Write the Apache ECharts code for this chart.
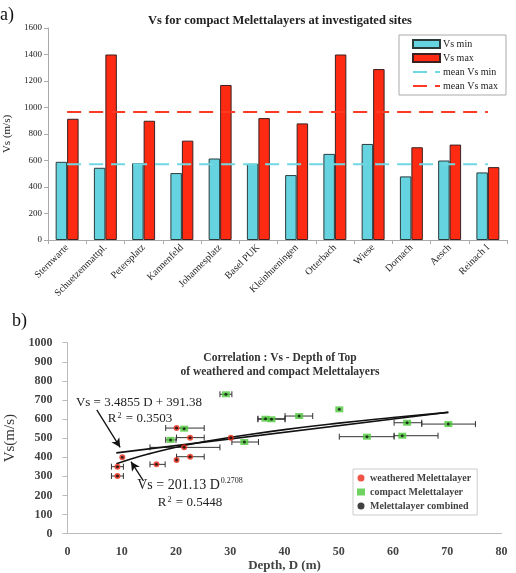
<!DOCTYPE html>
<html><head><meta charset="utf-8">
<script src="https://cdn.jsdelivr.net/npm/echarts@6/dist/echarts.min.js"></script>
<style>html,body{margin:0;padding:0;background:#fff}#c{width:516px;height:573px}</style>
</head><body><div id="c"></div>
<script>
// ---------- Panel a data ----------
const sites = ['Sternwarte','Schuetzenmattpl.','Petersplatz','Kannenfeld','Johannesplatz','Basel PUK','Kleinhueningen','Otterbach','Wiese','Dornach','Aesch','Reinach I'];
const vsMin = [590,545,580,505,615,575,490,650,725,480,600,510];
const vsMax = [915,1400,900,750,1170,920,880,1400,1290,700,720,550];
const meanVsMin = 572;
const meanVsMax = 966;
const yTicksA = [0,200,400,600,800,1000,1200,1400,1600];

// ---------- Panel b data ----------
const weatheredD = [9.2, 9.2, 10.1, 16.4, 20.1, 22.6, 21.5, 22.6, 20.1, 30.1];
const weatheredV = [351, 302, 400, 363, 386, 403, 452, 503, 553, 503];
const weatheredErrLow  = [8.1, 8.1, null, 15.2, null, 20.1, 15.2, 20.1, 18.1, null];
const weatheredErrHigh = [10.3, 10.3, null, 18.0, null, 25.2, 28.1, 25.2, 25.2, null];

const compactD = [19.0, 21.5, 32.6, 29.2, 36.5, 37.6, 42.7, 50.1, 55.2, 61.7, 62.6, 70.2];
const compactV = [491, 550, 480, 730, 602, 599, 616, 651, 508, 513, 581, 574];
const compactErrLow  = [18.1, null, 30.3, 28.1, 35.1, 35.1, 40.1, null, 50.1, 60.2, 60.2, 65.3];
const compactErrHigh = [20.0, null, 35.2, 30.3, 40.1, 40.1, 45.2, null, 60.2, 68.3, 65.3, 75.2];

const linearTrend = [[9.0, 423], [70.2, 636]];
const powerTrend = [[9,366],[12,394],[15,418],[20,453],[25,481],[30,504],[40,545],[50,579],[60,608],[70.2,635]];
const xTicksB = [0,10,20,30,40,50,60,70,80];
const yTicksB = [0,100,200,300,400,500,600,700,800,900,1000];

const SERIF = '"Liberation Serif","DejaVu Serif",serif';
const CYAN = '#66D4E0', RED = '#FF2A12';
const plain = v => String(v);

function zipPts(xs, ys){ return xs.map((x,i)=>[x, ys[i]]); }
function errRows(lo, hi, ys){
  const out = [];
  lo.forEach((l,i)=>{ if(l!==null) out.push([l, hi[i], ys[i]]); });
  return out;
}
function errRender(params, api){
  const y = api.value(2);
  const p1 = api.coord([api.value(0), y]);
  const p2 = api.coord([api.value(1), y]);
  const h = 3, st = {stroke:'#333', lineWidth:1};
  return {type:'group', children:[
    {type:'line', shape:{x1:p1[0],y1:p1[1],x2:p2[0],y2:p2[1]}, style:st},
    {type:'line', shape:{x1:p1[0],y1:p1[1]-h,x2:p1[0],y2:p1[1]+h}, style:st},
    {type:'line', shape:{x1:p2[0],y1:p2[1]-h,x2:p2[0],y2:p2[1]+h}, style:st}
  ]};
}

const chart = echarts.init(document.getElementById('c'), null, {renderer:'canvas'});
chart.setOption({
  animation:false,
  backgroundColor:'#fff',
  textStyle:{fontFamily:SERIF},
  title:[
    {text:'Vs for compact Melettalayers at investigated sites', left:275, top:9, textAlign:'center',
     textStyle:{fontFamily:SERIF, fontSize:12.5, fontWeight:'bold', color:'#222'}},
    {text:'Correlation : Vs - Depth of Top\nof weathered and compact Melettalayers', left:275, top:346, textAlign:'center',
     textStyle:{fontFamily:SERIF, fontSize:11.5, fontWeight:'bold', color:'#333', lineHeight:14}}
  ],
  legend:[
    {data:[
       {name:'Vs min', icon:'rect'},
       {name:'Vs max', icon:'rect'},
       {name:'mean Vs min', itemStyle:{opacity:0}},
       {name:'mean Vs max', itemStyle:{opacity:0}}],
     orient:'vertical', left:399, top:35,
     itemWidth:27, itemHeight:8, itemGap:4, padding:[4,8,4,13],
     borderColor:'#aaa', borderWidth:1, backgroundColor:'#fff',
     textStyle:{fontFamily:SERIF, fontSize:10, color:'#222', padding:[0,0,0,-2]}},
    {data:['weathered Melettalayer','compact Melettalayer','Melettalayer combined'], orient:'vertical', left:353, top:469,
     itemWidth:8, itemHeight:7, itemGap:4, padding:[4,6,4,4],
     borderColor:'#ccc', borderWidth:1, backgroundColor:'#fff',
     textStyle:{fontFamily:SERIF, fontSize:10, fontWeight:'bold', color:'#444'}}
  ],
  grid:[
    {left:48, right:9, top:28, bottom:333, containLabel:false, outerBoundsMode:'none'},
    {left:67.5, right:14.5, top:342.7, bottom:39.3, containLabel:false, outerBoundsMode:'none'}
  ],
  xAxis:[
    {type:'category', gridIndex:0, data:sites,
     axisLine:{lineStyle:{color:'#aaa'}}, axisTick:{show:true, length:4, lineStyle:{color:'#aaa'}},
     axisLabel:{rotate:45, fontFamily:SERIF, fontSize:10, color:'#222', margin:6, interval:0}},
    {type:'value', gridIndex:1, min:xTicksB[0], max:xTicksB[xTicksB.length-1], interval:10,
     splitLine:{show:false}, axisLine:{show:true, lineStyle:{color:'#bbb'}}, axisTick:{show:false},
     axisLabel:{fontFamily:SERIF, fontSize:12, fontWeight:'bold', color:'#444', margin:12, formatter:plain},
     name:'Depth, D (m)', nameLocation:'middle', nameGap:25,
     nameTextStyle:{fontFamily:SERIF, fontSize:13, fontWeight:'bold', color:'#444'}}
  ],
  yAxis:[
    {type:'value', gridIndex:0, min:yTicksA[0], max:yTicksA[yTicksA.length-1], interval:200,
     splitLine:{show:false}, axisLine:{show:true, lineStyle:{color:'#aaa'}},
     axisTick:{show:true, length:4, lineStyle:{color:'#aaa'}},
     axisLabel:{fontFamily:SERIF, fontSize:9, color:'#222', margin:6, formatter:plain},
     name:'Vs (m/s)', nameLocation:'middle', nameGap:24,
     nameTextStyle:{fontFamily:SERIF, fontSize:11, color:'#222'}},
    {type:'value', gridIndex:1, min:yTicksB[0], max:yTicksB[yTicksB.length-1], interval:100,
     splitLine:{show:false}, axisLine:{show:true, lineStyle:{color:'#bbb'}},
     axisTick:{show:true, length:5, lineStyle:{color:'#bbb'}},
     axisLabel:{fontFamily:SERIF, fontSize:12, fontWeight:'bold', color:'#444', margin:15, formatter:plain},
     name:'Vs(m/s)', nameLocation:'middle', nameGap:47,
     nameTextStyle:{fontFamily:SERIF, fontSize:15, color:'#333'}}
  ],
  series:[
    {name:'Vs min', type:'bar', xAxisIndex:0, yAxisIndex:0, data:vsMin, barGap:'0%', barCategoryGap:'40%',
     itemStyle:{color:CYAN, borderColor:'#2b3b3b', borderWidth:1}},
    {name:'Vs max', type:'bar', xAxisIndex:0, yAxisIndex:0, data:vsMax,
     itemStyle:{color:RED, borderColor:'#3a2020', borderWidth:1}},
    {name:'mean Vs min', type:'line', xAxisIndex:0, yAxisIndex:0, data:sites.map(()=>meanVsMin),
     symbol:'none', lineStyle:{color:'#6FD8E2', width:2, type:[14,8]}, itemStyle:{color:'#6FD8E2'}, z:5},
    {name:'mean Vs max', type:'line', xAxisIndex:0, yAxisIndex:0, data:sites.map(()=>meanVsMax),
     symbol:'none', lineStyle:{color:'#FF3A22', width:2, type:[14,8]}, itemStyle:{color:'#FF3A22'}, z:5},

    {type:'custom', xAxisIndex:1, yAxisIndex:1, data:errRows(weatheredErrLow, weatheredErrHigh, weatheredV),
     renderItem:errRender, encode:{x:[0,1], y:2}, z:2},
    {type:'custom', xAxisIndex:1, yAxisIndex:1, data:errRows(compactErrLow, compactErrHigh, compactV),
     renderItem:errRender, encode:{x:[0,1], y:2}, z:2},
    {name:'linear', type:'line', xAxisIndex:1, yAxisIndex:1, data:linearTrend, symbol:'none',
     lineStyle:{color:'#111', width:1.6}, z:3,
     markLine:{silent:true, symbol:['none','arrow'], symbolSize:[7,9],
       lineStyle:{color:'#111', width:1.3, type:'solid'}, label:{show:false},
       data:[[{coord:[5.4,648]},{coord:[9.7,452]}],[{coord:[14.0,277]},{coord:[11.7,377]}]]}},
    {name:'power', type:'line', xAxisIndex:1, yAxisIndex:1, data:powerTrend, symbol:'none', smooth:true,
     lineStyle:{color:'#111', width:1.6}, z:3},
    {name:'weathered Melettalayer', type:'scatter', xAxisIndex:1, yAxisIndex:1, data:zipPts(weatheredD, weatheredV),
     symbol:'circle', symbolSize:6, itemStyle:{color:'#EE2A18'}, z:4},
    {name:'compact Melettalayer', type:'scatter', xAxisIndex:1, yAxisIndex:1, data:zipPts(compactD, compactV),
     symbol:'rect', symbolSize:[8,6], itemStyle:{color:'#4CC83A'}, z:4},
    {name:'Melettalayer combined', type:'scatter', xAxisIndex:1, yAxisIndex:1,
     data:zipPts(weatheredD.concat(compactD), weatheredV.concat(compactV)),
     symbol:'circle', symbolSize:3, itemStyle:{color:'#111'}, z:5}
  ],
  graphic:[
    {type:'text', left:0, top:6, style:{text:'a)', font:'18px '+SERIF, fill:'#111'}},
    {type:'text', left:12, top:312, style:{text:'b)', font:'18px '+SERIF, fill:'#111'}},
    {type:'text', x:139, y:403, style:{text:'Vs = 3.4855 D + 391.38', font:'13px '+SERIF, fill:'#222', textAlign:'center', textVerticalAlign:'middle'}},
    {type:'text', x:140, y:419, style:{text:'R{sup|2} = 0.3503', font:'13px '+SERIF, fill:'#222', textAlign:'center', textVerticalAlign:'middle',
       rich:{sup:{fontSize:8, fontFamily:SERIF, verticalAlign:'top', padding:[0,1,6,1]}}}},
    {type:'text', x:190, y:485, style:{text:'Vs = 201.13 D{sup|0.2708}', font:'14px '+SERIF, fill:'#222', textAlign:'center', textVerticalAlign:'middle',
       rich:{sup:{fontSize:8, fontFamily:SERIF, verticalAlign:'top', padding:[0,0,8,1]}}}},
    {type:'text', x:190, y:503, style:{text:'R{sup|2} = 0.5448', font:'13px '+SERIF, fill:'#222', textAlign:'center', textVerticalAlign:'middle',
       rich:{sup:{fontSize:8, fontFamily:SERIF, verticalAlign:'top', padding:[0,1,6,1]}}}}
  ]
});
</script></body></html>
